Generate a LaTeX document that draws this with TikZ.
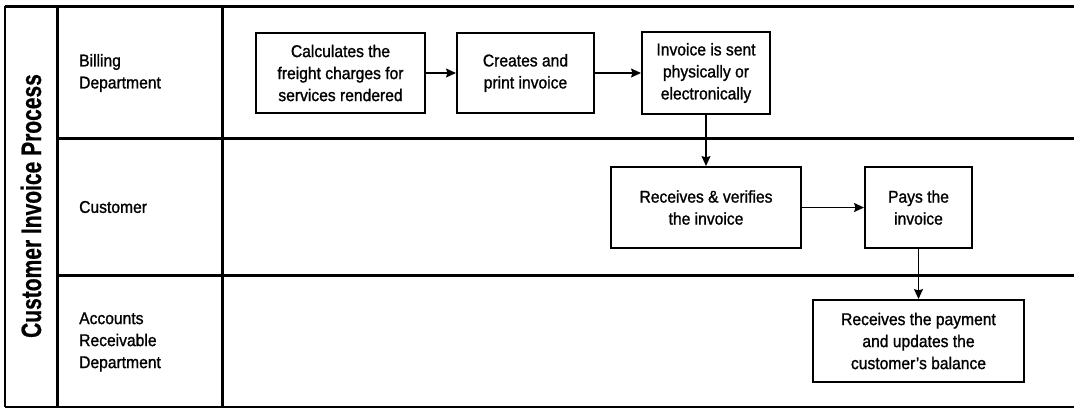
\documentclass[tikz,border=0pt]{standalone}
\usepackage{fontspec}
\setmainfont[FakeStretch=0.92,FakeBold=1.2]{Liberation Sans}
\newfontfamily\titlefont[FakeStretch=0.75,FakeBold=0.6]{Liberation Sans Bold}
\usetikzlibrary{arrows.meta}
\tikzset{
  lane/.style={line width=3pt},
  thinlane/.style={line width=1.8pt},
  proc/.style={draw, line width=2pt, align=center, inner sep=0pt,
    font=\fontsize{17}{22}\selectfont},
  lanelabel/.style={anchor=west, align=left, inner sep=0pt,
    font=\fontsize{17}{22}\selectfont},
  flow/.style={line width=1.4pt, -{Stealth[length=10pt,width=9pt,inset=1.5pt]}},
}
\begin{document}
\begin{tikzpicture}[x=1pt,y=-1pt]
\useasboundingbox (0,0) rectangle (1074,408);
% lanes
\draw[lane] (5,6) -- (1074,6);
\draw[thinlane] (5,6) -- (5,407);
\draw[lane] (57,6) -- (57,407);
\draw[lane] (222,6) -- (222,407);
\draw[lane] (57,138) -- (1074,138);
\draw[lane] (57,275) -- (1074,275);
\draw[line width=1.5pt] (5,407) -- (1074,407);
% title
\node[rotate=90, inner sep=0pt, font=\titlefont\fontsize{28}{30}\selectfont] (title) at (31,206) {Customer Invoice Process};
% lane labels
\node[lanelabel] (l1) at (79,73) {Billing\\Department};
\node[lanelabel] (l2) at (79,207) {Customer};
\node[lanelabel] (l3) at (79,342) {Accounts\\Receivable\\Department};
% process boxes
\node[proc, minimum width=169pt, minimum height=80pt] (b1) at (340.5,73) {Calculates the\\freight charges for\\services rendered};
\node[proc, minimum width=137pt, minimum height=80pt] (b2) at (525.5,73) {Creates and\\print invoice};
\node[proc, minimum width=128pt, minimum height=82pt] (b3) at (706,73) {Invoice is sent\\physically or\\electronically};
\node[proc, minimum width=190pt, minimum height=81pt] (b4) at (706,207.5) {Receives \& verifies\\the invoice};
\node[proc, minimum width=107pt, minimum height=81pt] (b5) at (918.5,207.5) {Pays the\\invoice};
\node[proc, minimum width=211pt, minimum height=82pt] (b6) at (918.5,341) {Receives the payment\\and updates the\\customer’s balance};
% flows
\draw[flow] (b1) -- (b2);
\draw[flow] (b2) -- (b3);
\draw[flow] (b3) -- (b4);
\draw[flow] (b4) -- (b5);
\draw[flow] (b5) -- (b6);
\end{tikzpicture}
\end{document}
